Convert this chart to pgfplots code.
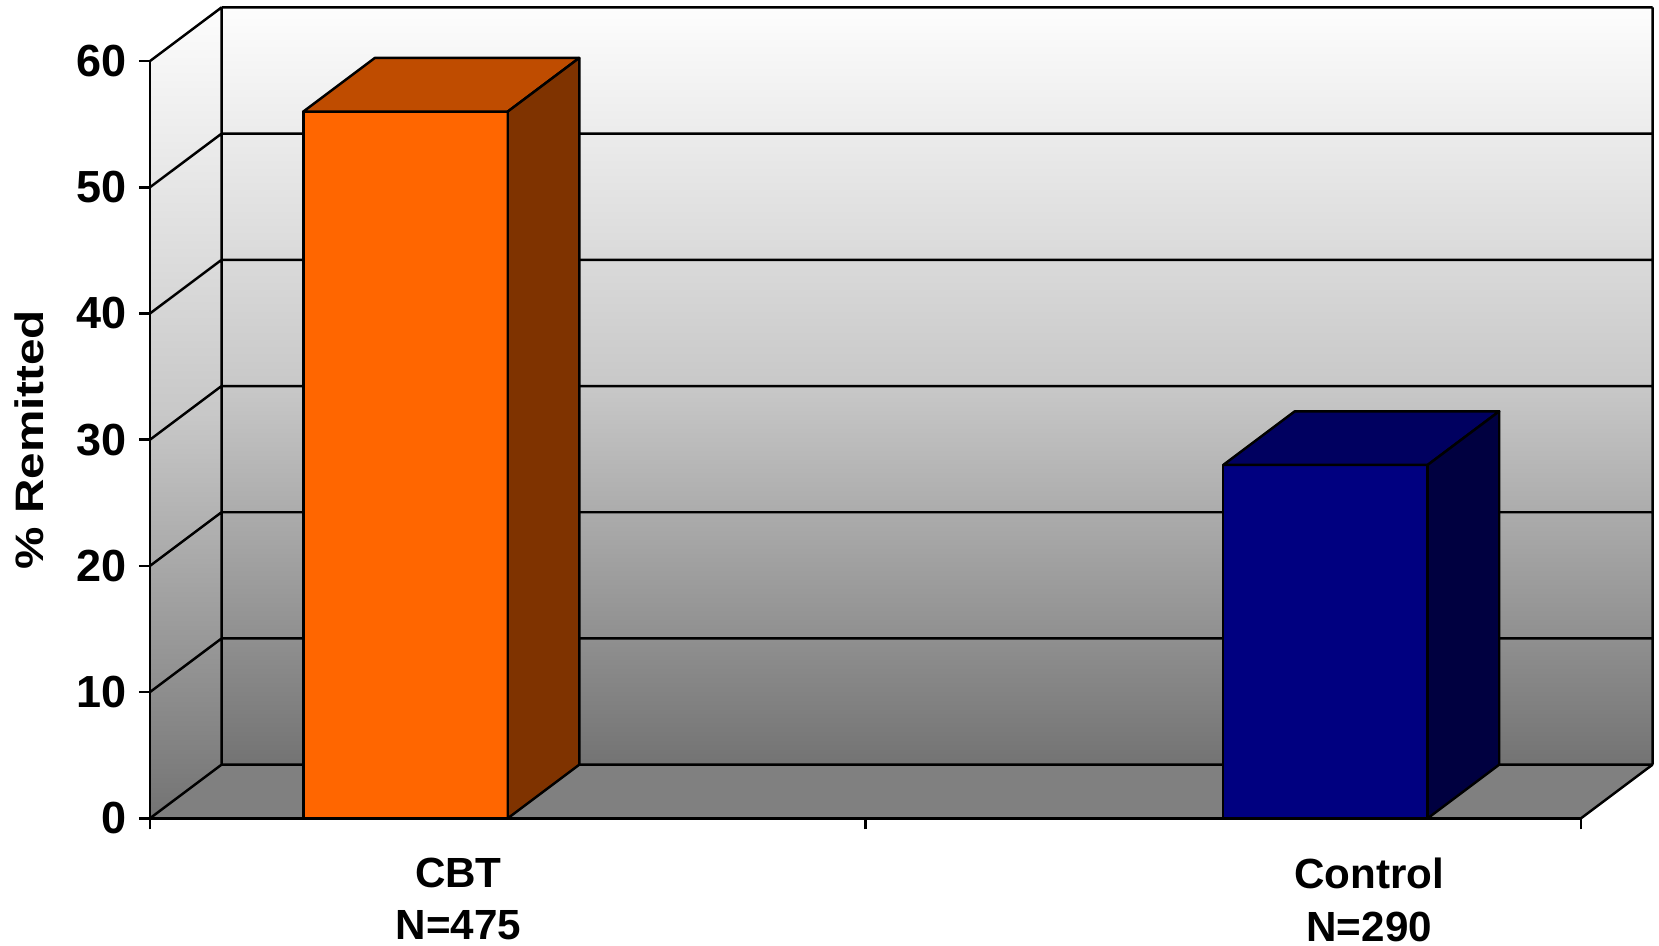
\documentclass[border=0pt]{standalone}
\usepackage{fontspec}
\setmainfont{Liberation Sans}
\usepackage{graphicx}
\usepackage{pgfplots}
\pgfplotsset{compat=1.18}
\definecolor{cbtfront}{HTML}{FF6600}
\definecolor{cbttop}{HTML}{BF4C00}
\definecolor{cbtside}{HTML}{7F3300}
\definecolor{ctlfront}{HTML}{000080}
\definecolor{ctltop}{HTML}{000060}
\definecolor{ctlside}{HTML}{000040}
\definecolor{walltop}{HTML}{FDFDFD}
\definecolor{wallmid}{HTML}{C8C8C8}
\definecolor{wallbot}{HTML}{737373}
\definecolor{floorc}{HTML}{808080}
\begin{document}
\begin{tikzpicture}
\begin{axis}[
  x=71.55mm, y=1.262mm,
  xmin=0, xmax=2, ymin=0, ymax=60,
  clip=false, axis on top,
  axis x line*=bottom, axis y line*=left,
  axis line style={-, line width=0.7pt, black},
  every tick/.style={black, line width=0.7pt},
  tick align=outside,
  major tick length=1.1mm,
  xtick={0,1,2}, xticklabels={},
  extra x ticks={0.431,1.704},
  extra x tick labels={{CBT\\N=475},{Control\\N=290}},
  extra x tick style={major tick length=0pt, tick label style={align=center, yshift=-2.7mm, font=\fontsize{12}{15}\selectfont\bfseries}},
  ytick={0,10,...,60},
  yticklabel style={font=\fontsize{12.8}{15}\selectfont\bfseries},
  /pgf/number format/assume math mode=true,
  ylabel={\scalebox{1.2}[1]{\% Remitted}},
  ylabel style={at={(axis cs:-0.169,30)}, anchor=center, font=\fontsize{11.3}{13}\selectfont\bfseries},
]
% back wall
\addplot[draw=none, top color=walltop, bottom color=wallbot, middle color=wallmid]
  coordinates {(0.1,4.25) (2.1,4.25) (2.1,64.25) (0.1,64.25)} -- cycle;
% left wall
\addplot[draw=none, top color=walltop, bottom color=wallbot, middle color=wallmid]
  coordinates {(0,0) (0.1,4.25) (0.1,64.25) (0,60)} -- cycle;
% floor
\addplot[draw=none, fill=floorc]
  coordinates {(0,0) (2,0) (2.1,4.25) (0.1,4.25)} -- cycle;
% gridlines on back wall and left wall, edges
\addplot[black, line width=0.7pt, unbounded coords=jump] coordinates {
  (0.1,4.25) (2.1,4.25) (1,nan)
  (0.1,14.25) (2.1,14.25) (1,nan)
  (0.1,24.25) (2.1,24.25) (1,nan)
  (0.1,34.25) (2.1,34.25) (1,nan)
  (0.1,44.25) (2.1,44.25) (1,nan)
  (0.1,54.25) (2.1,54.25) (1,nan)
  (0.1,64.25) (2.1,64.25) (1,nan)
  (0,0) (0.1,4.25) (1,nan)
  (0,10) (0.1,14.25) (1,nan)
  (0,20) (0.1,24.25) (1,nan)
  (0,30) (0.1,34.25) (1,nan)
  (0,40) (0.1,44.25) (1,nan)
  (0,50) (0.1,54.25) (1,nan)
  (0,60) (0.1,64.25) (1,nan)
  (0.1,4.25) (0.1,64.25) (1,nan)
  (2.1,4.25) (2.1,64.25) (1,nan)
  (2,0) (2.1,4.25)
};
% CBT bar (56 %)
\addplot[fill=cbtfront, draw=black, line width=0.7pt, line join=round]
  coordinates {(0.2143,0) (0.5,0) (0.5,56) (0.2143,56)} -- cycle;
\addplot[fill=cbttop, draw=black, line width=0.7pt, line join=round]
  coordinates {(0.2143,56) (0.5,56) (0.6,60.25) (0.3143,60.25)} -- cycle;
\addplot[fill=cbtside, draw=black, line width=0.7pt, line join=round]
  coordinates {(0.5,0) (0.6,4.25) (0.6,60.25) (0.5,56)} -- cycle;
% Control bar (28 %)
\addplot[fill=ctlfront, draw=black, line width=0.7pt, line join=round]
  coordinates {(1.5,0) (1.7857,0) (1.7857,28) (1.5,28)} -- cycle;
\addplot[fill=ctltop, draw=black, line width=0.7pt, line join=round]
  coordinates {(1.5,28) (1.7857,28) (1.8857,32.25) (1.6,32.25)} -- cycle;
\addplot[fill=ctlside, draw=black, line width=0.7pt, line join=round]
  coordinates {(1.7857,0) (1.8857,4.25) (1.8857,32.25) (1.7857,28)} -- cycle;
\coordinate (bbsw) at (axis cs:-0.2096,-10.04);
\coordinate (bbne) at (axis cs:2.1090,64.84);
\end{axis}
\pgfresetboundingbox
\path[use as bounding box] (bbsw) rectangle (bbne);
\end{tikzpicture}
\end{document}
